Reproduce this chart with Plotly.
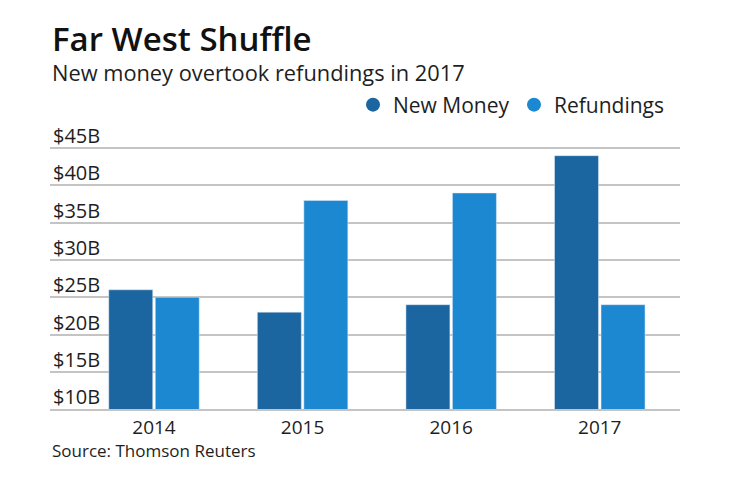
import plotly.graph_objects as go

years = ["2014", "2015", "2016", "2017"]
new_money = [26, 23, 24, 44]
refundings = [25, 38, 39, 24]
y_ticks = [10, 15, 20, 25, 30, 35, 40, 45]
y_tick_labels = ["$10B", "$15B", "$20B", "$25B", "$30B", "$35B", "$40B", "$45B"]

C_NEW = "#1b65a0"
C_REF = "#1d88d2"
TXT = "#1e1e1e"
GRID = "#c4c4c4"
FONT = "'Open Sans', Lato, sans-serif"

fig = go.Figure()
fig.add_trace(go.Bar(x=years, y=new_money, name="New Money", marker_color=C_NEW, showlegend=False))
fig.add_trace(go.Bar(x=years, y=refundings, name="Refundings", marker_color=C_REF, showlegend=False))
# legend entries with circular symbols
fig.add_trace(go.Scatter(x=[None], y=[None], mode="markers", name="New Money",
                         marker=dict(symbol="circle", size=14, color=C_NEW)))
fig.add_trace(go.Scatter(x=[None], y=[None], mode="markers", name="Refundings",
                         marker=dict(symbol="circle", size=14, color=C_REF)))

L, R, T, B = 50, 60, 146, 73
W, H = 740, 482
ph = H - T - B

def py(pix):
    return (H - B - pix) / ph

def px(pix):
    return (pix - L) / (W - L - R)

annotations = [
    dict(text="Far West Shuffle", xref="paper", yref="paper", x=px(50), y=py(39),
         xanchor="left", yanchor="middle", showarrow=False,
         font=dict(size=33, color="#111111", family=FONT, weight=600)),
    dict(text="New money overtook refundings in 2017", xref="paper", yref="paper",
         x=px(50), y=py(73), xanchor="left", yanchor="middle", showarrow=False,
         font=dict(size=21.8, color=TXT, family=FONT)),
    dict(text="Source: Thomson Reuters", xref="paper", yref="paper",
         x=px(50), y=py(450), xanchor="left", yanchor="middle", showarrow=False,
         font=dict(size=17, color=TXT, family=FONT)),
]
for v, t in zip(y_ticks, y_tick_labels):
    annotations.append(dict(text=t, xref="paper", yref="y", x=0, y=v, xshift=1, yshift=-3,
                            xanchor="left", yanchor="bottom", showarrow=False,
                            font=dict(size=20, color=TXT, family=FONT)))

fig.update_layout(
    width=W, height=H,
    margin=dict(l=L, r=R, t=T, b=B, autoexpand=False),
    paper_bgcolor="white", plot_bgcolor="white",
    barmode="group", bargap=0.374, bargroupgap=0.054,
    font=dict(family=FONT, color=TXT),
    showlegend=True,
    legend=dict(orientation="h", x=px(353), xanchor="left", y=py(105), yanchor="middle",
                font=dict(size=21, color=TXT), bgcolor="rgba(0,0,0,0)", itemclick=False,
                entrywidth=116, entrywidthmode="pixels"),
    xaxis=dict(type="category", range=[-0.70, 3.54], showgrid=False,
               showline=True, linecolor=GRID, linewidth=2, ticks="",
               tickfont=dict(size=19, color=TXT), fixedrange=True),
    yaxis=dict(range=[10, 45.3], tickvals=y_ticks, showticklabels=False,
               showgrid=True, gridcolor=GRID, gridwidth=2, zeroline=False,
               showline=False, ticks="", fixedrange=True),
    annotations=annotations,
)

fig.write_html("out.html")
